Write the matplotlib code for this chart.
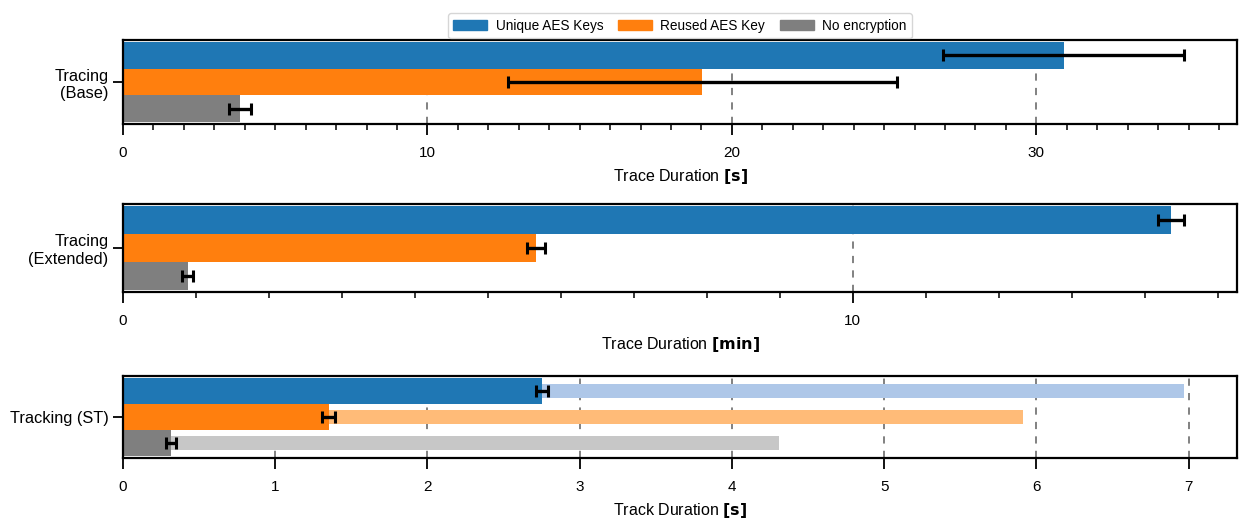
import matplotlib
matplotlib.use("Agg")
import matplotlib.pyplot as plt
import matplotlib.patches as mpatches
from matplotlib.ticker import MultipleLocator

plt.rcParams['font.family'] = ['Liberation Sans', 'DejaVu Sans']
plt.rcParams['font.size'] = 10
plt.rcParams['mathtext.fontset'] = 'dejavusans'

# ── Data ─────────────────────────────────────────────────────────────────────
series = ['Unique AES Keys', 'Reused AES Key', 'No encryption']
colors = ['#1f77b4', '#ff7f0e', '#7f7f7f']
light_colors = ['#aec7e8', '#ffbb78', '#c7c7c7']

base_mean = [30.9, 19.03, 3.84]          # seconds
base_err = [3.95, 6.4, 0.36]

ext_mean = [14.36, 5.66, 0.89]           # minutes
ext_err = [0.18, 0.13, 0.075]

track_mean = [2.75, 1.35, 0.315]         # seconds
track_err = [0.04, 0.04, 0.03]
track_max = [6.97, 5.91, 4.31]

panels = [
    ('Tracing\n(Base)', base_mean, base_err, None, r'Trace Duration $\bf{[s]}$', 10, 1),
    ('Tracing\n(Extended)', ext_mean, ext_err, None, r'Trace Duration $\bf{[min]}$', 10, 1),
    ('Tracking (ST)', track_mean, track_err, track_max, r'Track Duration $\bf{[s]}$', 1, None),
]

# ── Figure ───────────────────────────────────────────────────────────────────
fig = plt.figure(figsize=(12.4, 5.2), dpi=100)
boxes = [(0.0992, 0.7615, 0.8984, 0.1615),
         (0.0992, 0.4385, 0.8984, 0.1692),
         (0.0992, 0.1192, 0.8984, 0.1577)]

h = 0.8 / 3
offsets = [h, 0, -h]

axes = []
for box, (label, mean, err, extra, xlabel, major, minor) in zip(boxes, panels):
    ax = fig.add_axes(box)
    axes.append(ax)
    ax.set_axisbelow(True)
    # light bars behind: maximum duration
    if extra is not None:
        for off, val, c in zip(offsets, extra, light_colors):
            ax.barh(off, val, height=h * 0.55, color=c, zorder=1)
    for off, val, e, c in zip(offsets, mean, err, colors):
        ax.barh(off, val, height=h, color=c, zorder=2)
        ax.errorbar(val, off, xerr=e, fmt='none', ecolor='black',
                    elinewidth=2.4, capsize=4, capthick=2.2, zorder=3)
    ax.set_yticks([0])
    ax.set_yticklabels([label])
    ax.set_ylim(-0.42, 0.42)
    ax.set_xlim(left=0)
    ax.xaxis.set_major_locator(MultipleLocator(major))
    if minor:
        ax.xaxis.set_minor_locator(MultipleLocator(minor))
    ax.xaxis.grid(True, which='major', linestyle=(0, (4, 4)),
                  color='#777777', linewidth=1.3)
    ax.set_xlabel(xlabel, fontsize=11.5, labelpad=5)
    ax.tick_params(axis='x', which='major', length=8, width=1.3, pad=8, labelsize=11)
    ax.tick_params(axis='x', which='minor', length=4.5, width=1.1)
    ax.tick_params(axis='y', length=7, width=1.3, labelsize=11.8)
    for spine in ax.spines.values():
        spine.set_linewidth(1.6)

handles = [mpatches.Patch(color=c, label=s) for s, c in zip(series, colors)]
axes[0].legend(handles=handles, loc='lower center', bbox_to_anchor=(0.5, 1.02),
               ncol=3, fontsize=9.8, frameon=True, edgecolor='#cccccc',
               handlelength=2.5, handletextpad=0.6, columnspacing=1.1,
               borderaxespad=0)

fig.savefig('out.png', dpi=100)
